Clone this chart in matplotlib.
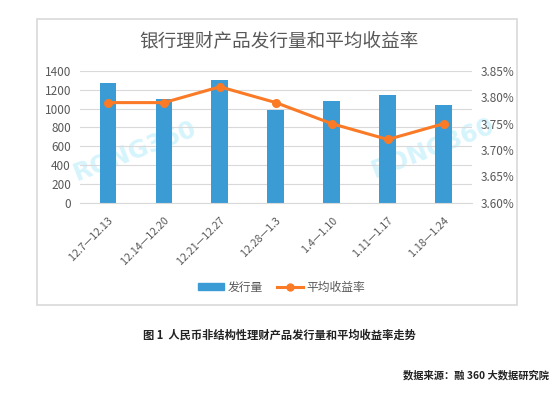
import numpy as np
import matplotlib
matplotlib.use('Agg')
import matplotlib.pyplot as plt
from matplotlib.patches import Rectangle
from matplotlib.lines import Line2D
from matplotlib.ticker import FuncFormatter

plt.rcParams['font.family'] = ['Noto Sans CJK SC', 'DejaVu Sans']

# data
weeks = ['12.7—12.13', '12.14—12.20', '12.21—12.27', '12.28—1.3',
         '1.4—1.10', '1.11—1.17', '1.18—1.24']
volume = [1270, 1100, 1300, 985, 1085, 1140, 1040]
yield_pct = [3.79, 3.79, 3.82, 3.79, 3.75, 3.72, 3.75]

title = '银行理财产品发行量和平均收益率'
caption = '图 1  人民币非结构性理财产品发行量和平均收益率走势'
source = '数据来源：融 360 大数据研究院'

bar_col = '#3a9bd5'
line_col = '#fa7a26'
txt_col = '#595959'
grid_col = '#d9d9d9'

W, H = 556, 394
fig = plt.figure(figsize=(W/100, H/100), dpi=100)

# chart frame
fig.patches.append(Rectangle((36.7/W, 1-305/H), 480.5/W, 286.5/H,
                             transform=fig.transFigure, fill=False,
                             edgecolor=grid_col, lw=1.2))

# watermarks (behind the plot)
for wx, wy in [(135, 151), (433, 148)]:
    fig.text(wx/W, 1-wy/H, 'RONG360', fontsize=17.5, fontweight='bold',
             color='#d6f4fc', rotation=21, ha='center', va='center',
             family='DejaVu Sans', zorder=-1)

ax = fig.add_axes([80/W, 1-202.7/H, 391.7/W, 131.7/H])
ax.patch.set_visible(False)
x = np.arange(len(weeks))
ax.bar(x, volume, width=0.3, color=bar_col, zorder=2)
ax.set_xlim(-0.5, len(weeks)-0.5)
ax.set_ylim(0, 1400)
ax.set_yticks(np.arange(0, 1401, 200))
ax.grid(axis='y', color=grid_col, lw=0.8, zorder=0)
for s in ['top', 'left', 'right']:
    ax.spines[s].set_visible(False)
ax.spines['bottom'].set_color(grid_col)
ax.tick_params(axis='both', length=0, colors=txt_col, labelsize=8.5)
ax.tick_params(axis='y', pad=6.5)
ax.set_xticks(x)
ax.set_xticklabels(weeks, rotation=45, ha='right', rotation_mode='anchor', fontsize=7.7)
ax.tick_params(axis='x', pad=9)

ax2 = ax.twinx()
ax2.plot(x, yield_pct, color=line_col, lw=2.2, marker='o', ms=5.5, zorder=3)
ax2.set_ylim(3.60, 3.85)
ax2.set_yticks(np.arange(3.60, 3.851, 0.05))
ax2.yaxis.set_major_formatter(FuncFormatter(lambda v, p: f'{v:.2f}%'))
for s in ['top', 'left', 'right', 'bottom']:
    ax2.spines[s].set_visible(False)
ax2.tick_params(axis='y', length=0, colors=txt_col, labelsize=8.5, pad=6.5)

fig.text(279/W, 1-42/H, title, fontsize=13.4, color=txt_col,
         ha='center', va='center')

handles = [Rectangle((0, 0), 1, 1, color=bar_col),
           Line2D([0], [0], color=line_col, lw=2.2, marker='o', ms=5)]
fig.legend(handles, ['发行量', '平均收益率'], loc='center',
           bbox_to_anchor=(282/W, 1-287/H), ncol=2, frameon=False,
           fontsize=8.5, labelcolor=txt_col, handlelength=2.2,
           handleheight=0.5, columnspacing=1.2, handletextpad=0.3)

fig.text(279.5/W, 1-335/H, caption, fontsize=8.1, fontweight='bold',
         color='#222222', ha='center', va='center')
fig.text(549/W, 1-375.5/H, source, fontsize=7.4, fontweight='bold',
         color='#222222', ha='right', va='center')

fig.savefig('out.png', dpi=100)
